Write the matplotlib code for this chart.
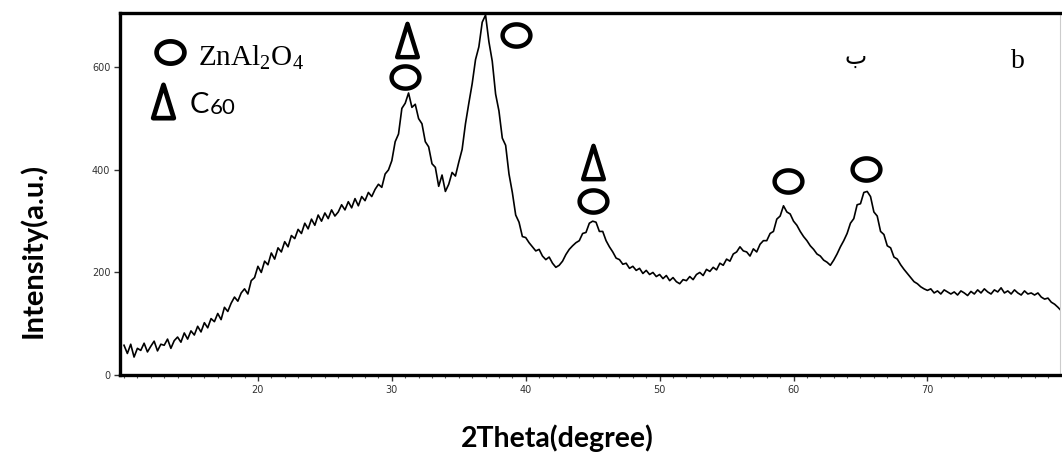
import numpy as np
import matplotlib
matplotlib.use("Agg")
import matplotlib.pyplot as plt
from matplotlib.path import Path
from matplotlib.ticker import MultipleLocator

# ---- data ----
two_theta = np.arange(10.0, 80.01, 0.25)
intensity = [
    58, 42, 60, 35, 52, 48, 62, 45,          # 10.00-11.75
    56, 66, 47, 60, 58, 70, 52, 67,          # 12.00-13.75
    74, 64, 82, 70, 86, 78, 95, 84,          # 14.00-15.75
    102, 92, 110, 104, 120, 108, 132, 124,   # 16.00-17.75
    140, 152, 144, 160, 168, 158, 184, 190,  # 18.00-19.75
    212, 200, 222, 215, 238, 226, 248, 240,  # 20.00-21.75
    260, 250, 272, 266, 284, 276, 296, 285,  # 22.00-23.75
    304, 292, 312, 300, 316, 305, 322, 310,  # 24.00-25.75
    318, 332, 322, 338, 326, 344, 330, 348,  # 26.00-27.75
    340, 356, 348, 362, 372, 366, 392, 400,  # 28.00-29.75
    418, 455, 470, 520, 530, 550, 522, 528,  # 30.00-31.75
    500, 490, 455, 445, 412, 405, 368, 390,  # 32.00-33.75
    358, 372, 395, 388, 415, 440, 490, 530,  # 34.00-35.75
    568, 615, 640, 688, 702, 650, 612, 548,  # 36.00-37.75
    515, 462, 448, 392, 356, 312, 298, 270,  # 38.00-39.75
    268, 258, 250, 242, 245, 232, 225, 230,  # 40.00-41.75
    218, 210, 214, 222, 235, 245, 252, 258,  # 42.00-43.75
    262, 276, 278, 296, 300, 298, 280, 280,  # 44.00-45.75
    262, 250, 240, 228, 225, 216, 218, 208,  # 46.00-47.75
    212, 204, 208, 198, 204, 196, 200, 192,  # 48.00-49.75
    196, 188, 194, 184, 190, 182, 178, 186,  # 50.00-51.75
    184, 192, 186, 196, 200, 194, 206, 202,  # 52.00-53.75
    210, 205, 218, 214, 226, 222, 236, 240,  # 54.00-55.75
    250, 242, 240, 232, 246, 240, 255, 262,  # 56.00-57.75
    262, 276, 280, 304, 310, 330, 318, 314,  # 58.00-59.75
    300, 292, 280, 270, 262, 252, 245, 236,  # 60.00-61.75
    232, 224, 220, 214, 224, 236, 250, 262,  # 62.00-63.75
    276, 296, 305, 332, 334, 356, 358, 348,  # 64.00-65.75
    318, 310, 280, 274, 252, 248, 230, 226,  # 66.00-67.75
    215, 206, 198, 190, 182, 178, 172, 168,  # 68.00-69.75
    165, 168, 160, 164, 158, 166, 162, 158,  # 70.00-71.75
    162, 156, 164, 160, 155, 163, 158, 166,  # 72.00-73.75
    160, 168, 162, 158, 166, 162, 170, 160,  # 74.00-75.75
    164, 158, 166, 160, 156, 164, 158, 160,  # 76.00-77.75
    156, 160, 152, 148, 150, 142, 138, 132,  # 78.00-79.75
    125,                                     # 80.00
]

# peak labels
znal2o4_x = [31.0, 39.3, 45.0, 59.55, 65.4]
znal2o4_y = [581, 663, 340, 378, 402]
c60_x = [31.1, 45.0]
c60_y = [654, 416]

x_ticks = [20, 30, 40, 50, 60, 70]
y_ticks = [0, 200, 400, 600]

# ---- marker shapes ----
t = np.linspace(0, 2 * np.pi, 80)
ellipse = Path(np.c_[np.cos(t), 0.8 * np.sin(t)], closed=True)
tri = Path([(-0.62, -1), (0.62, -1), (0, 1), (-0.62, -1)], closed=True)

fig = plt.figure(figsize=(10.62, 4.59), dpi=100)
ax = fig.add_axes([120 / 1062, 84 / 459, 940 / 1062, 362 / 459])

ax.plot(two_theta, intensity, color="black", lw=1.2)

ax.plot(znal2o4_x, znal2o4_y, ls="none", marker=ellipse, ms=20,
        mfc="none", mec="black", mew=3.2, clip_on=False)
ax.plot(c60_x, c60_y, ls="none", marker=tri, ms=24,
        mfc="none", mec="black", mew=3.2, clip_on=False)

ax.set_xlim(9.7, 79.9)
ax.set_ylim(0, 706)
ax.set_xticks(x_ticks)
ax.set_yticks(y_ticks)
ax.xaxis.set_minor_locator(MultipleLocator(1))
ax.tick_params(axis="both", which="major", direction="out", length=4,
               width=1.0, labelsize=7, colors="#333333", pad=3)
ax.tick_params(axis="x", which="minor", direction="out", length=2, width=0.8,
               colors="#555555")

for s in ["left", "bottom", "top"]:
    ax.spines[s].set_linewidth(2.4)
    ax.spines[s].set_color("black")
ax.spines["right"].set_linewidth(0.8)
ax.spines["right"].set_color("#cccccc")

# legend (manual, as in the figure)
ax.plot([0.053], [0.892], transform=ax.transAxes, marker=ellipse, ms=20,
        mfc="none", mec="black", mew=3.4, clip_on=False)
ax.plot([0.046], [0.757], transform=ax.transAxes, marker=tri, ms=24,
        mfc="none", mec="black", mew=3.4, clip_on=False)
ax.text(0.083, 0.878, r"ZnAl$_{\mathregular{2}}$O$_{\mathregular{4}}$",
        transform=ax.transAxes, family="Liberation Serif", fontsize=21,
        va="center", ha="left")
ax.text(0.074, 0.745, "C", transform=ax.transAxes, family="Lato",
        fontsize=21, va="center", ha="left")
ax.text(0.0955, 0.737, "60", transform=ax.transAxes, family="Lato",
        fontsize=16, va="center", ha="left")

ax.text(0.783, 0.880, "ب", transform=ax.transAxes, family="DejaVu Sans",
        fontsize=17, va="center", ha="center")
ax.text(0.955, 0.865, "b", transform=ax.transAxes, family="Liberation Serif",
        fontsize=20, va="center", ha="center")

fig.text(33 / 1062, (459 - 250) / 459, "Intensity(a.u.)", rotation=90,
         family="Lato", weight="bold", fontsize=21, ha="center", va="center")
fig.text(557 / 1062, (459 - 438) / 459, "2Theta(degree)",
         family="Lato", weight="bold", fontsize=20.5, ha="center", va="center")

fig.savefig("out.png", dpi=100)
